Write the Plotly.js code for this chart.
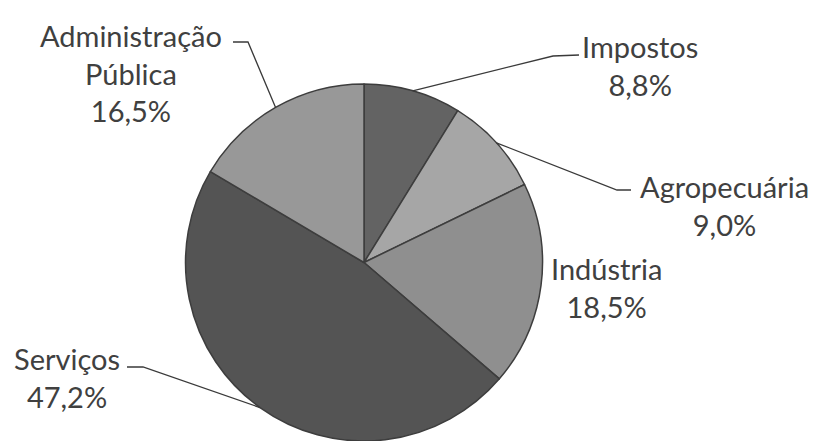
<!DOCTYPE html>
<html>
<head>
<meta charset="utf-8">
<script src="https://cdn.plot.ly/plotly-3.0.1.min.js"></script>
<style>html,body{margin:0;padding:0;background:#fff;}#chart{width:818px;height:441px;}</style>
</head>
<body>
<div id="chart"></div>
<script>
// Data
var categories = ["Impostos", "Agropecuária", "Indústria", "Serviços", "Administração<br>Pública"];
var values = [8.8, 9.0, 18.5, 47.2, 16.5];
var sliceColors = ["#636363", "#a6a6a6", "#8f8f8f", "#545454", "#989898"];

// Layout geometry (pixels)
var W = 818, H = 441;
var domX = [0.2262, 0.6638];
var domY = [0.0, 0.8095];
// label block centres and leader-line elbows (pixels) – layout only
var labelPos = [
  {x: 640, y: 66, elbow: [[553, 56], [579, 55]]},
  {x: 724, y: 206, elbow: [[617, 190], [631, 190]]},
  {x: 606, y: 287, elbow: null},
  {x: 67, y: 377, elbow: [[143, 367], [127, 367]]},
  {x: 131, y: 73, elbow: [[248, 42], [233, 42]]}
];

function fmt(v) { return v.toFixed(1).replace('.', ',') + '%'; }

var total = values.reduce(function(a, b) { return a + b; }, 0);
var cx = (domX[0] + domX[1]) / 2 * W;
var cy = H - (domY[0] + domY[1]) / 2 * H;
var R = Math.min((domX[1] - domX[0]) * W, (domY[1] - domY[0]) * H) / 2;

var annotations = [], shapes = [];
var cum = 0;
for (var i = 0; i < values.length; i++) {
  var mid = (cum + values[i] / 2) / total * 2 * Math.PI;
  cum += values[i];
  var ex = cx + R * Math.sin(mid), ey = cy - R * Math.cos(mid);
  var lp = labelPos[i];
  annotations.push({
    xref: 'paper', yref: 'paper',
    x: lp.x / W, y: 1 - lp.y / H,
    xanchor: 'center', yanchor: 'middle',
    text: categories[i] + '<br>' + fmt(values[i]),
    showarrow: false,
    font: {family: 'Lato, "Open Sans", sans-serif', size: 29, color: '#404040'}
  });
  if (lp.elbow) {
    var p = 'M ' + (ex / W) + ' ' + (1 - ey / H);
    lp.elbow.forEach(function(pt) { p += ' L ' + (pt[0] / W) + ' ' + (1 - pt[1] / H); });
    shapes.push({type: 'path', xref: 'paper', yref: 'paper', path: p,
      line: {color: '#3a3a3a', width: 1.3}});
  }
}

var trace = {
  type: 'pie',
  labels: categories,
  values: values,
  sort: false,
  direction: 'clockwise',
  rotation: 0,
  textinfo: 'none',
  hoverinfo: 'label+percent',
  domain: {x: domX, y: domY},
  marker: {colors: sliceColors, line: {color: '#3d3d3d', width: 1.5}},
  showlegend: false
};

var layout = {
  width: W, height: H,
  margin: {l: 0, r: 0, t: 0, b: 0},
  paper_bgcolor: '#ffffff',
  plot_bgcolor: '#ffffff',
  showlegend: false,
  annotations: annotations,
  shapes: shapes
};

Plotly.newPlot('chart', [trace], layout, {displayModeBar: false, staticPlot: true});
</script>
</body>
</html>
